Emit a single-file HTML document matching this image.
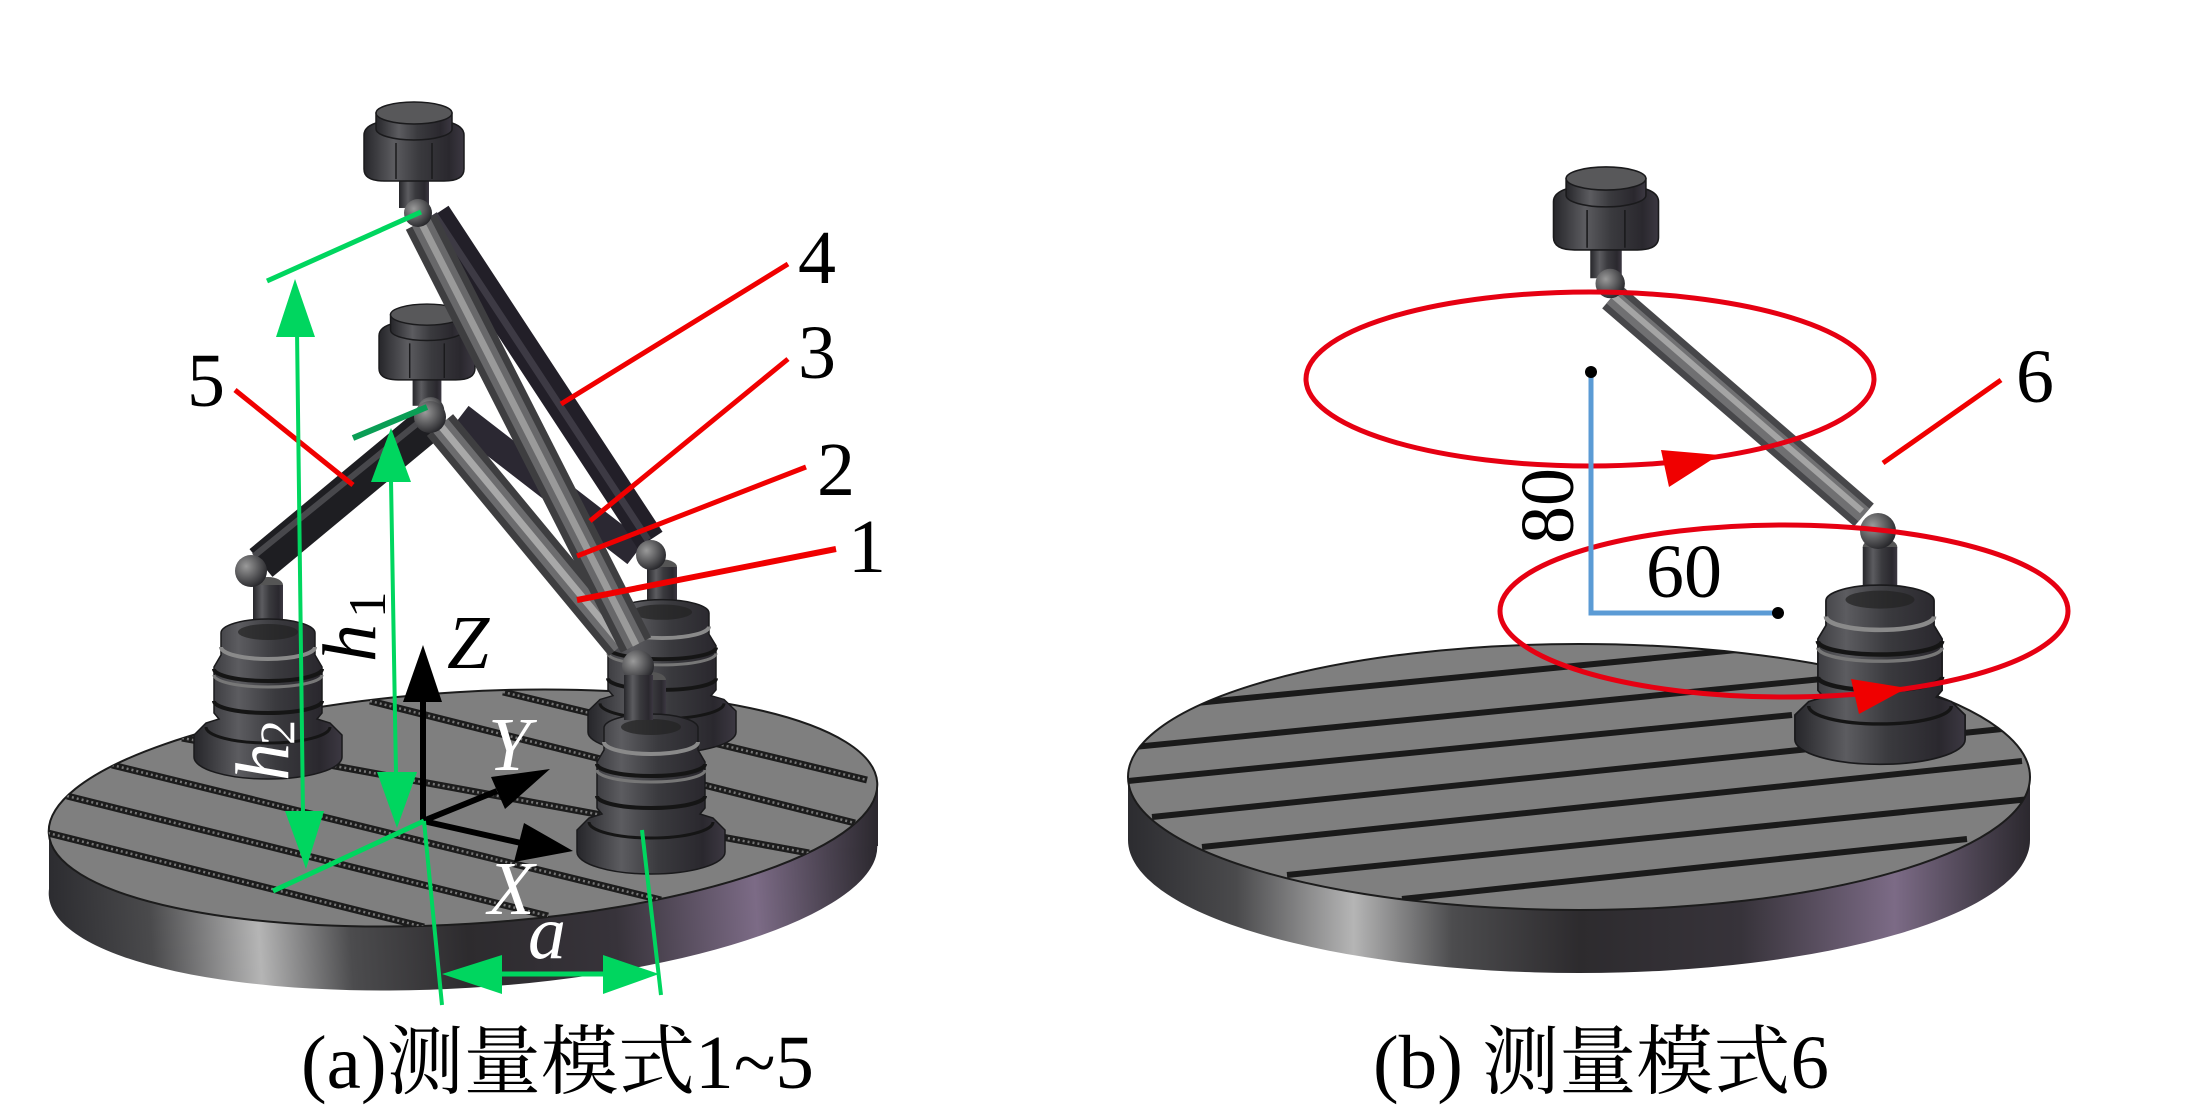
<!DOCTYPE html>
<html><head><meta charset="utf-8"><style>
html,body{margin:0;padding:0;background:#fff}
svg{display:block}
text{font-family:"Liberation Serif","Noto Serif CJK SC",serif}
</style></head><body>
<svg width="2187" height="1113" viewBox="0 0 2187 1113" xmlns="http://www.w3.org/2000/svg">
<defs>
<linearGradient id="side"><stop offset="0" stop-color="#2c2c30"/><stop offset=".12" stop-color="#4a4a4c"/><stop offset=".25" stop-color="#b5b5b5"/><stop offset=".36" stop-color="#4c4c4e"/><stop offset=".5" stop-color="#2d2b2e"/><stop offset=".68" stop-color="#37333a"/><stop offset=".85" stop-color="#7c6b86"/><stop offset=".94" stop-color="#4a4250"/><stop offset="1" stop-color="#2b282e"/></linearGradient>
<linearGradient id="m"><stop offset="0" stop-color="#26262a"/><stop offset=".3" stop-color="#5c5c60"/><stop offset=".55" stop-color="#3a3a3e"/><stop offset=".85" stop-color="#2a282e"/><stop offset="1" stop-color="#3c3842"/></linearGradient>
<radialGradient id="b" cx=".35" cy=".35" r=".7"><stop offset="0" stop-color="#9a9a9a"/><stop offset="1" stop-color="#26262a"/></radialGradient>
<clipPath id="cl"><ellipse cx="463" cy="808" rx="415" ry="116" transform="rotate(-3.5 463 808)"/></clipPath>
<clipPath id="cr"><ellipse cx="1587" cy="778" rx="451" ry="133"/></clipPath>
<g id="post">
<ellipse cx="0" cy="0" rx="15" ry="8" fill="#555"/>
<rect x="-15" y="0" width="30" height="42" fill="url(#m)"/>
<path d="M-47 48 A47 14 0 0 1 47 48 L47 70 L54 82 L54 128 L49 134 L62 138 L74 150 L74 172 A74 22 0 0 1 -74 172 L-74 150 L-62 138 L-49 134 L-54 128 L-54 82 L-47 70Z" fill="url(#m)" stroke="#1a1a1c" stroke-width="1.5"/>
<ellipse cx="0" cy="47" rx="30" ry="8" fill="#222" opacity=".7"/>
<path d="M-47 62 A47 12 0 0 0 47 62" fill="none" stroke="#8a8a8a" stroke-width="4"/>
<path d="M-54 84 A54 12 0 0 0 54 84" fill="none" stroke="#151515" stroke-width="4"/>
<path d="M-54 90 A54 12 0 0 0 54 90" fill="none" stroke="#777" stroke-width="3"/>
<path d="M-54 116 A54 12 0 0 0 54 116" fill="none" stroke="#151515" stroke-width="4"/>
<path d="M-62 142 A62 16 0 0 0 62 142" fill="none" stroke="#151515" stroke-width="3"/>
</g>
<g id="knob">
<rect x="-15" y="75" width="30" height="30" fill="url(#m)"/>
<path d="M-50 32 Q-50 24 -38 20 L38 20 Q50 24 50 32 L50 66 Q50 78 30 78 L-30 78 Q-50 78 -50 66Z" fill="url(#m)" stroke="#1a1a1c" stroke-width="1.5"/>
<path d="M-38 10 L-38 26 A38 11 0 0 0 38 26 L38 10Z" fill="url(#m)" stroke="#1a1a1c" stroke-width="1.5"/>
<ellipse cx="0" cy="10" rx="38" ry="11" fill="#58585a" stroke="#1a1a1c" stroke-width="1.5"/>
<path d="M-18 40 V76 M18 40 V76" stroke="#1a1a1c" stroke-width="1.5"/>
<circle cx="4" cy="110" r="14" fill="url(#b)"/>
</g>
</defs>

<!-- left table -->
<g>
<ellipse cx="463" cy="870" rx="415" ry="118" transform="rotate(-3.5 463 870)" fill="url(#side)"/>
<polygon points="49,833 878,782 878,846 49,897" fill="url(#side)"/>
<ellipse cx="463" cy="808" rx="415" ry="116" transform="rotate(-3.5 463 808)" fill="#7f7f7f" stroke="#1c1c1c" stroke-width="2"/>
<g clip-path="url(#cl)">
<g fill="none" stroke="#1c1c1c" stroke-width="7">
<path d="M48 833L424 927M67 796L548 916M112 765L661 900M182 738L809 853M370 701L855 823M503 692L867 780"/>
</g>
<g fill="none" stroke="#777" stroke-width="2.5" stroke-dasharray="2 3">
<path d="M48 833L424 927M67 796L548 916M112 765L661 900M182 738L809 853M370 701L855 823M503 692L867 780"/>
</g>
</g>
</g>
<use href="#post" transform="translate(268 585)"/>
<use href="#post" transform="translate(662 567) scale(1 .96)"/>
<use href="#post" transform="translate(651 680)"/>

<!-- rods left -->
<g fill="none" stroke-linecap="butt">
<path d="M460 417L636 553" stroke="#2b2832" stroke-width="28"/>
<path d="M436 214L650 540" stroke="#221f28" stroke-width="30"/>
<path d="M434 214L648 540" stroke="#3d3a44" stroke-width="7"/>
<use href="#knob" transform="translate(427 305) scale(.96)"/>
<path d="M426 426L261 563" stroke="#1e1e22" stroke-width="36"/>
<path d="M418 423L254 556" stroke="#48484c" stroke-width="6"/>
<path d="M440 425L622 645" stroke="#3e3e40" stroke-width="34"/>
<path d="M440 425L622 645" stroke="#6c6c6e" stroke-width="20"/>
<path d="M440 425L622 645" stroke="#a8a8a8" stroke-width="7"/>
<path d="M421 222L636 645" stroke="#3e3e40" stroke-width="34"/>
<path d="M421 222L636 645" stroke="#68686a" stroke-width="20"/>
<path d="M421 222L636 645" stroke="#9a9a9a" stroke-width="7"/>
</g>
<use href="#knob" transform="translate(414 103)"/>
<circle cx="430" cy="417" r="16" fill="url(#b)"/>
<circle cx="251" cy="571" r="16" fill="url(#b)"/>
<circle cx="651" cy="555" r="15" fill="url(#b)"/>
<circle cx="638" cy="666" r="16" fill="url(#b)"/>
<rect x="624" y="675" width="29" height="45" fill="url(#m)"/>

<!-- red leaders -->
<g stroke="#f00000" stroke-width="5" fill="none">
<path d="M788 264L561 404M788 359L590 521M806 467L577 556" />
<path d="M836 549L577 600" stroke-width="6"/>
<path d="M235 390L353 485"/>
</g>
<g font-size="76" fill="#000" text-anchor="middle">
<text x="817" y="283">4</text><text x="817" y="378">3</text><text x="836" y="495">2</text><text x="867" y="572">1</text><text x="206" y="406">5</text>
</g>

<!-- black axes -->
<g stroke="#000" stroke-width="6" fill="none"><path d="M423 821V700M423 821L497 791M423 821L530 845"/></g>
<polygon points="423,645 403,702 442,702" fill="#000"/>
<polygon points="550,769 491,777 505,809" fill="#000"/>
<polygon points="573,851 524,823 514,862" fill="#000"/>

<!-- green -->
<g stroke="#00d65f" fill="none">
<path d="M267 281L421 212M273 891L424 821" stroke-width="5"/>
<path d="M297 330L303 815M391 480L396 775M424 821L442 1005M642 830L661 995" stroke-width="4"/>
<path d="M495 974H610" stroke-width="5"/>
</g>
<path d="M353 438L427 407" stroke="#0a9e55" stroke-width="6"/>
<g fill="#00d65f">
<polygon points="295,279 276,337 315,337"/>
<polygon points="285,811 324,811 306,869"/>
<polygon points="391,428 371,482 411,482"/>
<polygon points="377,772 417,772 397,828"/>
<polygon points="442,974 502,955 502,994"/>
<polygon points="659,974 603,955 603,994"/>
</g>

<g font-style="italic" font-size="76">
<text x="447" y="668" fill="#000">Z</text>
<text x="488" y="770" fill="#fff">Y</text>
<text x="488" y="914" fill="#fff">X</text>
<text x="528" y="958" fill="#fff">a</text>
<g transform="translate(375 662) rotate(-90)" fill="#000"><text x="0" y="0">h</text><text x="44" y="10" font-size="53" font-style="normal">1</text></g>
<g transform="translate(288 781) rotate(-90)" fill="#fff"><text x="0" y="0">h</text><text x="36" y="6" font-size="50" font-style="normal">2</text></g>
</g>

<text x="301" y="1088" font-size="76" textLength="513" lengthAdjust="spacingAndGlyphs">(a)测量模式1~5</text>

<!-- right table -->
<g transform="translate(-8 -1)">
<ellipse cx="1587" cy="841" rx="451" ry="133" fill="url(#side)"/>
<rect x="1136" y="778" width="902" height="63" fill="url(#side)"/>
<ellipse cx="1587" cy="778" rx="451" ry="133" fill="#7f7f7f" stroke="#1c1c1c" stroke-width="2"/>
<g stroke="#1a1a1a" stroke-width="6" fill="none" clip-path="url(#cr)">
<path d="M1194 705L1755 650M1142 748L1830 680M1136 782L1800 716M1160 818L2010 730M1210 848L2030 762M1295 876L2038 800M1410 900L1975 840"/>
</g>
</g>
<use href="#post" transform="translate(1880 547) scale(1.15 1.12)"/>
<path d="M1612 297L1864 515" stroke="#47474a" stroke-width="30" fill="none"/>
<path d="M1612 297L1864 515" stroke="#707072" stroke-width="17" fill="none"/>
<path d="M1610 293L1862 511" stroke="#a4a4a4" stroke-width="6" fill="none"/>
<use href="#knob" transform="translate(1606 168) scale(1.05)"/>
<circle cx="1878" cy="531" r="18" fill="url(#b)"/>

<!-- rings -->
<g fill="none" stroke="#e60012" stroke-width="5">
<ellipse cx="1590" cy="379" rx="284" ry="87"/>
<ellipse cx="1784" cy="611" rx="284" ry="86"/>
</g>
<g fill="#f00000">
<polygon points="1719,455 1661,450 1669,487"/>
<polygon points="1907,688 1851,679 1859,714"/>
</g>
<path d="M1591 372V613H1778" fill="none" stroke="#5b9bd5" stroke-width="5"/>
<circle cx="1591" cy="372" r="6" fill="#000"/><circle cx="1778" cy="613" r="6" fill="#000"/>
<path d="M2001 380L1883 463" stroke="#f00000" stroke-width="5"/>
<g font-size="76" fill="#000">
<text x="2035" y="402" text-anchor="middle">6</text>
<text x="1646" y="597">60</text>
<text transform="translate(1573 544) rotate(-90)">80</text>
</g>
<text x="1373" y="1088" font-size="76" textLength="456" lengthAdjust="spacingAndGlyphs">(b) 测量模式6</text>
</svg>
</body></html>
